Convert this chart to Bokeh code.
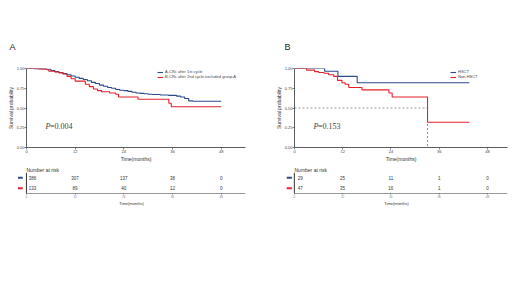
from bokeh.plotting import figure
from bokeh.models import Legend, LegendItem, FixedTicker, Range1d, ColumnDataSource, NumeralTickFormatter, Label
from bokeh.layouts import row, column
from bokeh.embed import file_html
from bokeh.resources import INLINE
from bokeh.core.properties import value

# ---------------- data ----------------
ticks = [0, 12, 24, 36, 48]

# Panel A
a_blue_label = "A-CRc after 1st cycle"
a_blue_t = [0, 2, 4, 5, 6, 7, 8, 9, 10, 11, 12, 13, 14, 15, 16, 17, 18, 19, 20, 21, 22, 23, 24,
            25, 26, 27, 28, 29, 30, 31, 33, 35, 37, 38, 39, 40, 41, 48]
a_blue_s = [1.00, 0.998, 0.995, 0.99, 0.975, 0.96, 0.95, 0.935, 0.92, 0.905, 0.89, 0.875, 0.86,
            0.845, 0.825, 0.81, 0.79, 0.775, 0.76, 0.75, 0.735, 0.725, 0.72,
            0.71, 0.70, 0.69, 0.685, 0.68, 0.675, 0.67, 0.665, 0.66, 0.65, 0.64, 0.62, 0.59, 0.585, 0.585]
a_red_label = "B-CRc after 2nd cycle excluded group A"
a_red_t = [0, 3, 5, 5.5, 7, 8, 9, 10, 11, 12, 14.5, 15.5, 16.5, 17.5, 18.5, 20.5, 22, 22.7,
           27.5, 35.1, 35.7, 48]
a_red_s = [1.00, 0.995, 0.985, 0.965, 0.955, 0.945, 0.93, 0.90, 0.87, 0.84, 0.80, 0.77, 0.74,
           0.72, 0.705, 0.69, 0.675, 0.64, 0.61, 0.56, 0.515, 0.515]
a_risk_blue = [386, 307, 137, 38, 0]
a_risk_red = [133, 89, 40, 12, 0]
a_pval = "=0.004"

# Panel B
b_blue_label = "HSCT"
b_blue_t = [0, 7.5, 10.8, 15.6, 43.5]
b_blue_s = [1.00, 0.965, 0.90, 0.82, 0.82]
b_red_label = "Non-HSCT"
b_red_t = [0, 3, 5, 6, 7.3, 8.5, 9.75, 10.7, 11.8, 12.6, 13.5, 16.8, 23.5, 24.3, 33.1, 43.5]
b_red_s = [1.00, 0.98, 0.96, 0.95, 0.94, 0.92, 0.90, 0.85, 0.82, 0.80, 0.76, 0.73, 0.69, 0.64,
           0.32, 0.32]
b_median = 33.1
b_risk_blue = [29, 25, 11, 1, 0]
b_risk_red = [47, 35, 16, 1, 0]
b_pval = "=0.153"

BLUE = "#2B4A8A"
RED = "#E3202B"
AX = "#333333"
FONT = "Liberation Sans"


def style_axes(p, tick_size="4px", label_size="5px"):
    for ax in p.xaxis + p.yaxis:
        ax.axis_line_color = AX
        ax.axis_line_width = 0.8
        ax.major_tick_line_color = AX
        ax.major_tick_line_width = 0.6
        ax.major_tick_out = 2
        ax.major_tick_in = 0
        ax.minor_tick_line_color = None
        ax.major_label_text_font_size = tick_size
        ax.major_label_text_font = FONT
        ax.major_label_text_color = "#444444"
        ax.major_label_standoff = 0
        ax.axis_label_text_font_size = label_size
        ax.axis_label_text_font = FONT
        ax.axis_label_text_font_style = "normal"
        ax.axis_label_text_color = "#333333"
        ax.axis_label_standoff = 0
    p.xgrid.visible = False
    p.ygrid.visible = False
    p.outline_line_color = None


def km_fig(panel, t1, s1, l1, t2, s2, l2, pval, width, bl, br, xmax, leg_x, title_off, median=None):
    p = figure(width=width, height=164, output_backend="svg", toolbar_location=None,
               x_range=Range1d(0, xmax), y_range=Range1d(0, 1.0), title=panel,
               min_border_left=bl, min_border_right=br, min_border_top=68, min_border_bottom=16)
    style_axes(p)
    p.title.text_font_size = "9px"
    p.title.text_font = FONT
    p.title.text_font_style = "normal"
    p.title.text_color = "#222222"
    p.title.align = "left"
    p.title.offset = title_off
    p.title.standoff = 34
    p.xaxis.ticker = FixedTicker(ticks=ticks)
    p.yaxis.ticker = FixedTicker(ticks=[0, 0.25, 0.5, 0.75, 1.0])
    p.yaxis.formatter = NumeralTickFormatter(format="0.00")
    p.xaxis.axis_label = "Time(months)"
    p.yaxis.axis_label = "Survival probability"
    if median is not None:
        src = ColumnDataSource(dict(x0=[0, median], y0=[0.5, 0.5], x1=[median, median], y1=[0.5, 0]))
        p.segment("x0", "y0", "x1", "y1", source=src, line_color="#444444",
                  line_dash="2 2", line_width=0.6)
    r1 = p.step(t1, s1, mode="after", line_color=BLUE, line_width=1.1)
    r2 = p.step(t2, s2, mode="after", line_color=RED, line_width=1.1)
    leg = Legend(items=[LegendItem(label=l1, renderers=[r1]), LegendItem(label=l2, renderers=[r2])],
                 location=(leg_x, 68), label_text_font_size="4px", label_text_font=FONT,
                 glyph_height=4, glyph_width=6, label_height=4, spacing=0, padding=0, margin=0,
                 label_standoff=2, border_line_alpha=0, background_fill_alpha=0)
    p.add_layout(leg)
    p.add_layout(Label(x=4.7, y=0.27, text="P", text_font="Liberation Serif",
                       text_font_style="italic", text_font_size="8px", text_baseline="middle"))
    p.add_layout(Label(x=4.7, y=0.27, x_offset=4.5, text=pval, text_font="Liberation Serif",
                       text_font_size="8px", text_baseline="middle"))
    return p


def risk_fig(rb, rr, width, bl, br, xmin, xmax, title_off, d0, d1):
    p = figure(width=width, height=44, output_backend="svg", toolbar_location=None,
               x_range=Range1d(xmin, xmax), y_range=Range1d(0.5, 2.5),
               min_border_left=bl, min_border_right=br, min_border_top=5, min_border_bottom=15,
               title="Number at risk")
    style_axes(p, tick_size="3px", label_size="4px")
    p.title.text_font_size = "5px"
    p.title.text_font = FONT
    p.title.text_font_style = "normal"
    p.title.text_color = "#333333"
    p.title.align = "left"
    p.title.standoff = 0
    p.title.offset = title_off
    p.xaxis.ticker = FixedTicker(ticks=ticks)
    p.xaxis.axis_label = "Time(months)"
    p.xaxis.major_label_text_color = "#777777"
    p.xaxis.axis_line_color = None
    p.xaxis.major_tick_out = 1
    p.yaxis.visible = False
    # axis lines starting at time 0
    lines = ColumnDataSource(dict(x0=[0, 0], y0=[0.5, 0.5], x1=[xmax, 0], y1=[0.5, 2.5]))
    p.segment("x0", "y0", "x1", "y1", source=lines, line_color=AX, line_width=1.0)
    # colour keys of the rows
    keys = ColumnDataSource(dict(x0=[d0, d0], x1=[d1, d1], y=[2, 1], c=[BLUE, RED]))
    p.segment("x0", "y", "x1", "y", source=keys, line_color="c", line_width=2)
    n = len(ticks)
    src = ColumnDataSource(dict(x=ticks + ticks, y=[2] * n + [1] * n,
                                t=[str(v) for v in rb] + [str(v) for v in rr],
                                off=[6, 0, 0, 0, 0] * 2))
    p.text("x", "y", text="t", source=src, x_offset="off", text_align="center",
           text_baseline="middle", text_font_size="4.5px", text_font=value(FONT),
           text_color="#333333")
    return p


kmA = km_fig("A", a_blue_t, a_blue_s, a_blue_label, a_red_t, a_red_s, a_red_label, a_pval,
             264, 26, 19, 54, 131, -17)
kmB = km_fig("B", b_blue_t, b_blue_s, b_blue_label, b_red_t, b_red_s, b_red_label, b_pval,
             256, 30, 13, 53, 156, -10, median=b_median)
rkA = risk_fig(a_risk_blue, a_risk_red, 264, 17, 19, -2.2, 54, 9, -2.1, -0.9)
rkB = risk_fig(b_risk_blue, b_risk_red, 256, 21, 13, -2.2, 53, 9, -1.9, -0.6)

layout = column(row(kmA, kmB), row(rkA, rkB))
open("out.html", "w").write(file_html(layout, INLINE))
